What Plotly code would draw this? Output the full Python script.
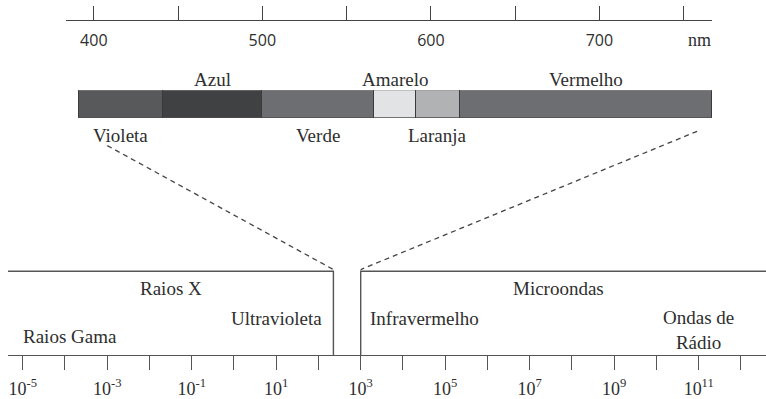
import numpy as np
import plotly.graph_objects as go

# ---- visible band (wavelength in nm) ----
band_names = ["Violeta", "Azul", "Verde", "Amarelo", "Laranja", "Vermelho"]
band_start = [391, 441, 500, 566, 591, 617]
band_end = [441, 500, 566, 591, 617, 767]
band_colors = ["#58595b", "#404143", "#6d6e71", "#e2e3e4", "#b1b2b4", "#6d6e71"]
upper_labels = ["Azul", "Amarelo", "Vermelho"]
lower_labels = ["Violeta", "Verde", "Laranja"]

nm_major = [400, 500, 600, 700]
nm_minor_step = 50

# ---- full spectrum (log scale) ----
exp_major = [-5, -3, -1, 1, 3, 5, 7, 9, 11]
exp_ticktext = [f"10<sup>{k}</sup>" for k in exp_major]
gap_edges = [226, 1000]          # edges of the visible window
connector_nm = [408, 758]        # where the dashed connectors leave the band
region_names = ["Raios Gama", "Raios X", "Ultravioleta", "Infravermelho",
                "Microondas", "Ondas de<br>Rádio"]
region_pos = [10**-3.87, 10**-1.5, 10**1.0, 10**4.5, 10**7.67, 10**11.0]
region_row = [2, 0, 1, 1, 0, 1]

W, H = 766, 399
ink = "#2e2e2e"
serif = "Liberation Serif, Times New Roman, serif"
sans = "Open Sans, Noto Sans, sans-serif"

x1_dom = [66 / W, 712.3 / W]
x1_rng = [383.5, 767]
x2_dom = [8 / W, 1.0]
x2_rng = [-5.348, 12.593]
y2_dom = [1 - 357.7 / H, 1 - 260 / H]
y2_rng = [0, 1.157]


def nm_paper(v):
    return x1_dom[0] + (v - x1_rng[0]) / (x1_rng[1] - x1_rng[0]) * (x1_dom[1] - x1_dom[0])


def log_paper(v):
    lv = np.log10(v)
    return x2_dom[0] + (lv - x2_rng[0]) / (x2_rng[1] - x2_rng[0]) * (x2_dom[1] - x2_dom[0])


def y2_paper(v):
    return y2_dom[0] + (v - y2_rng[0]) / (y2_rng[1] - y2_rng[0]) * (y2_dom[1] - y2_dom[0])


fig = go.Figure()

# colour strip of the visible band
fig.add_trace(go.Bar(
    orientation="h",
    base=band_start,
    x=[e - s for s, e in zip(band_start, band_end)],
    y=[0] * len(band_start),
    width=1,
    marker=dict(color=band_colors, line=dict(color="#3a3a3a", width=1)),
    xaxis="x", yaxis="y", hoverinfo="skip", showlegend=False,
))

# outline of the spectrum with the window for the visible band
x_lo, x_hi = 10 ** x2_rng[0], 10 ** x2_rng[1]
fig.add_trace(go.Scatter(
    x=[x_lo, gap_edges[0], gap_edges[0], None, gap_edges[1], gap_edges[1], x_hi],
    y=[1, 1, 0, None, 0, 1, 1],
    mode="lines", line=dict(color="#555555", width=1.4),
    xaxis="x2", yaxis="y2", hoverinfo="skip", showlegend=False, connectgaps=False,
))

annotations = []
for name, s, e in zip(band_names, band_start, band_end):
    mid = (s + e) / 2
    yy = 1 - 80 / H if name in upper_labels else 1 - 137 / H
    annotations.append(dict(x=mid, y=yy, xref="x", yref="paper", text=name,
                            showarrow=False, xanchor="center", yanchor="middle",
                            font=dict(family=serif, size=19, color=ink)))

annotations.append(dict(x=nm_paper(759.6), y=1 - 40 / H, xref="paper", yref="paper",
                        text="nm", showarrow=False, xanchor="center", yanchor="middle",
                        font=dict(family=serif, size=18, color=ink)))

row_y = [1 - 291 / H, 1 - 321 / H, 1 - 339.5 / H]
for name, pos, row in zip(region_names, region_pos, region_row):
    yy = row_y[row]
    if "<br>" in name:
        yy = 1 - 332 / H
    annotations.append(dict(x=np.log10(pos), y=yy, xref="x2", yref="paper", text=name,
                            showarrow=False, xanchor="center", yanchor="middle",
                            font=dict(family=serif, size=19, color=ink)))

# dashed connectors from the colour strip down to the window
shapes = [
    dict(type="line", xref="paper", yref="paper",
         x0=nm_paper(connector_nm[0]), y0=1 - 146.7 / H,
         x1=log_paper(gap_edges[0]), y1=y2_paper(1.02),
         line=dict(color="#444444", width=1.3, dash="5px,4px")),
    dict(type="line", xref="paper", yref="paper",
         x0=nm_paper(connector_nm[1]), y0=1 - 132.3 / H,
         x1=log_paper(gap_edges[1]), y1=y2_paper(1.02),
         line=dict(color="#444444", width=1.3, dash="5px,4px")),
]

fig.update_layout(
    width=W, height=H, autosize=False,
    margin=dict(l=0, r=0, t=0, b=0),
    paper_bgcolor="white", plot_bgcolor="white",
    showlegend=False, bargap=0,
    xaxis=dict(domain=x1_dom, range=x1_rng, anchor="free", position=1 - 20 / H,
               showline=True, linecolor="#444444", linewidth=1.3,
               ticks="inside", ticklen=14, tickwidth=1.3, tickcolor="#444444",
               tickvals=nm_major, ticktext=[str(v) for v in nm_major],
               ticklabelstandoff=6,
               minor=dict(tick0=0, dtick=nm_minor_step, ticks="inside", ticklen=14,
                          tickwidth=1.3, tickcolor="#444444", showgrid=False),
               tickfont=dict(family=sans, size=16, color=ink),
               showgrid=False, zeroline=False, fixedrange=True),
    yaxis=dict(domain=[1 - 119 / H, 1 - 91 / H], range=[-0.5, 0.5], visible=False,
               fixedrange=True),
    xaxis2=dict(domain=x2_dom, range=x2_rng, type="log", anchor="y2",
                showline=True, linecolor="#555555", linewidth=1.4,
                ticks="outside", ticklen=14, tickwidth=1.3, tickcolor="#555555",
                tickvals=[10.0 ** k for k in exp_major], ticktext=exp_ticktext,
                ticklabelstandoff=3,
                minor=dict(tick0=0, dtick=1, ticks="outside", ticklen=14,
                           tickwidth=1.3, tickcolor="#555555", showgrid=False),
                tickfont=dict(family=serif, size=18, color=ink),
                showgrid=False, zeroline=False, fixedrange=True),
    yaxis2=dict(domain=y2_dom, range=y2_rng, visible=False, fixedrange=True),
    annotations=annotations,
    shapes=shapes,
)

fig.write_html("out.html")
